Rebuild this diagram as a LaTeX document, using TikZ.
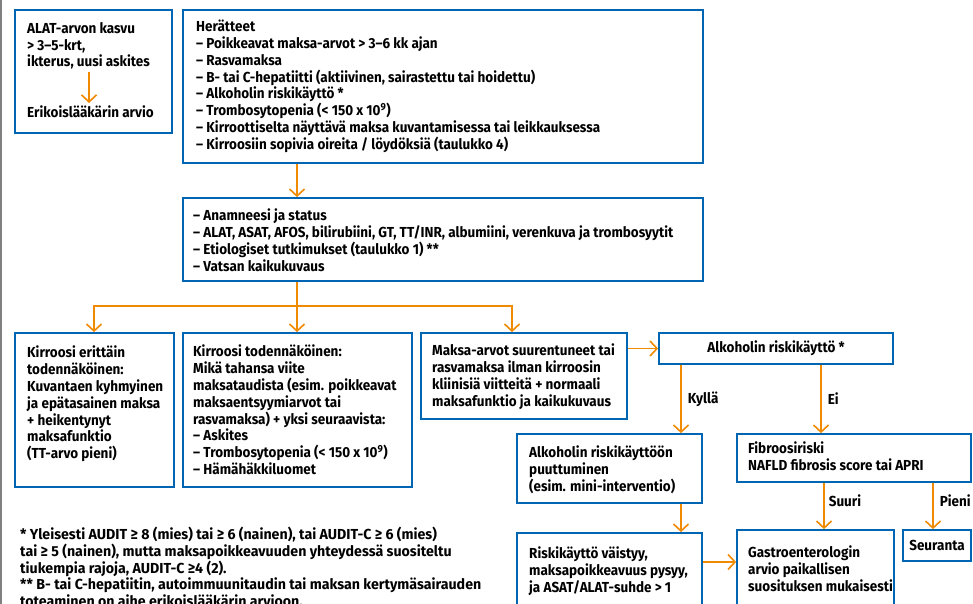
\documentclass[tikz,border=0pt]{standalone}
\usepackage{fontspec}
\setmainfont{Fira Sans}[FakeStretch=0.93]
\newfontfamily\fnfont{Fira Sans}[FakeStretch=0.98]
\usetikzlibrary{arrows.meta,fit,calc}
\definecolor{bl}{RGB}{0,102,179}
\definecolor{og}{RGB}{240,138,0}
\tikzset{
  box/.style={draw=bl, line width=1.8pt, inner sep=0pt, rectangle},
  txt/.style={anchor=north west, inner sep=0pt, align=left, font=\fontsize{14.5}{16.8}\selectfont\bfseries},
  fn/.style={anchor=north west, inner sep=0pt, align=left, font=\fnfont\fontsize{14.5}{16.7}\selectfont\bfseries},
  lab/.style={inner sep=0pt, font=\fontsize{14.5}{16.8}\selectfont\bfseries},
  ln/.style={draw=og, line width=1.6pt},
  arr/.style={draw=og, line width=1.6pt, -{Straight Barb[length=7pt,width=15pt,line width=1.6pt]}}
}
\begin{document}
\begin{tikzpicture}[x=1pt,y=-1pt]
\clip (0,0) rectangle (973,604);
\fill[white] (0,0) rectangle (973,604);
\draw[draw=gray, line width=2pt] (1,0) -- (1,604);

% boxes
\node[box, fit={(15,10) (172,133)}] (A) {};
\node[box, fit={(183,10) (703,163)}] (B) {};
\node[box, fit={(183,198) (703,281)}] (C) {};
\node[box, fit={(15,333) (174,487)}] (D) {};
\node[box, fit={(183,333) (412,487)}] (E) {};
\node[box, fit={(421,333) (627,419)}] (F) {};
\node[box, fit={(659,333) (893,364)}] (G) {};
\node[box, fit={(517,434) (702,503)}] (H) {};
\node[box, fit={(737,434) (971,482)}] (I) {};
\node[box, fit={(517,533) (702,630)}] (J) {};
\node[box, fit={(737,530) (894,630)}] (K) {};
\node[box, fit={(903,530) (971,561)}] (L) {};

% texts
\node[txt] (A1) at (27,22) {ALAT-arvon kasvu\\> 3–5-krt,\\ikterus, uusi askites};
\node[txt] (A2) at (27,106) {Erikoislääkärin arvio};
\node[txt] (B1) at (196,20) {Herätteet\\
– Poikkeavat maksa-arvot > 3–6 kk ajan\\
– Rasvamaksa\\
– B- tai C-hepatiitti (aktiivinen, sairastettu tai hoidettu)\\
– Alkoholin riskikäyttö *\\
– Trombosytopenia (< 150 x 10\textsuperscript{9})\\
– Kirroottiselta näyttävä maksa kuvantamisessa tai leikkauksessa\\
– Kirroosiin sopivia oireita / löydöksiä (taulukko 4)};
\node[txt] (C1) at (193,209) {– Anamneesi ja status\\
– ALAT, ASAT, AFOS, bilirubiini, GT, TT/INR, albumiini, verenkuva ja trombosyytit\\
– Etiologiset tutkimukset (taulukko 1) **\\
– Vatsan kaikukuvaus};
\node[txt] (D1) at (27,346) {Kirroosi erittäin\\todennäköinen:\\Kuvantaen kyhmyinen\\ja epätasainen maksa\\+ heikentynyt\\maksafunktio\\(TT-arvo pieni)};
\node[txt] (E1) at (193,345) {Kirroosi todennäköinen:\\Mikä tahansa viite\\maksataudista (esim. poikkeavat\\maksaentsyymiarvot tai\\rasvamaksa) + yksi seuraavista:\\– Askites\\– Trombosytopenia (< 150 x 10\textsuperscript{9})\\– Hämähäkkiluomet};
\node[txt] (F1) at (432,344) {Maksa-arvot suurentuneet tai\\rasvamaksa ilman kirroosin\\kliinisiä viitteitä + normaali\\maksafunktio ja kaikukuvaus};
\node[lab] (G1) at (G.center) {Alkoholin riskikäyttö *};
\node[txt] (H1) at (529,446) {Alkoholin riskikäyttöön\\puuttuminen\\(esim. mini-interventio)};
\node[txt] (I1) at (748,442) {Fibroosiriski\\NAFLD fibrosis score tai APRI};
\node[txt] (J1) at (529,547) {Riskikäyttö väistyy,\\maksapoikkeavuus pysyy,\\ja ASAT/ALAT-suhde > 1};
\node[txt] (K1) at (748,546) {Gastroenterologin\\arvio paikallisen\\suosituksen mukaisesti};
\node[lab] (L1) at (L.center) {Seuranta};
\node[fn] (N1) at (20,527) {* Yleisesti AUDIT ≥ 8 (mies) tai ≥ 6 (nainen), tai AUDIT-C ≥ 6 (mies)\\
tai ≥ 5 (nainen), mutta maksapoikkeavuuden yhteydessä suositeltu\\
tiukempia rajoja, AUDIT-C ≥4 (2).\\
** B- tai C-hepatiitin, autoimmuunitaudin tai maksan kertymäsairauden\\
toteaminen on aihe erikoislääkärin arvioon.};

% helper coordinates
\coordinate (xa) at (89,0);
\coordinate (xb) at (297,0);
\coordinate (jn) at (297,306);
\coordinate (xd) at (94,0);
\coordinate (xf) at (512,0);
\coordinate (xk) at (681,0);
\coordinate (xe) at (821,0);
\coordinate (xs) at (824,0);
\coordinate (xp) at (933,0);
\coordinate (yj) at (0,562);

% connectors
\draw[arr] ([yshift=-2pt]A1.south -| xa) -- ([yshift=3pt]A2.north -| xa);
\draw[arr] (B.south -| xb) -- (C.north -| xb);
\draw[ln] (C.south -| jn) -- (jn);
\draw[arr] (jn) -| (D.north -| xd);
\draw[arr] (jn) -- (E.north -| jn);
\draw[arr] (jn) -| (F.north -| xf);
\draw[arr] (F.east |- G.west) -- (G.west);
\draw[arr] (G.south -| xk) -- node[lab, right=6pt] (ky) {Kyllä} (H.north -| xk);
\draw[arr] (G.south -| xe) -- node[lab, right=6pt] (ei) {Ei} (I.north -| xe);
\draw[arr] (H.south -| xk) -- (J.north -| xk);
\draw[arr] (J.east |- yj) -- (K.west |- yj);
\draw[arr] (I.south -| xs) -- node[lab, right=4pt, pos=0.38] (su) {Suuri} (K.north -| xs);
\draw[arr] (I.south -| xp) -- node[lab, right=6pt, pos=0.38] (pi) {Pieni} (L.north -| xp);
\end{tikzpicture}
\end{document}
